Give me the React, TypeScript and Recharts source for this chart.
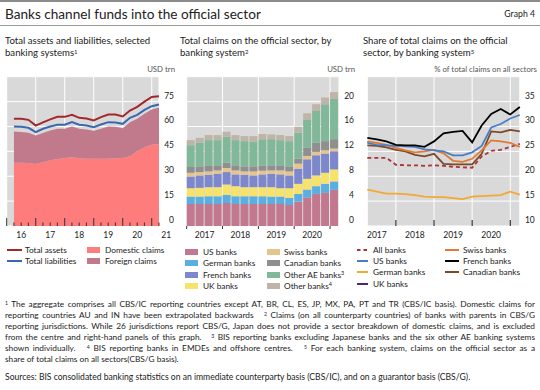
import React from 'react';
import { ComposedChart, Area, Line, Bar, XAxis, YAxis, CartesianGrid } from 'recharts';

const FONT = 'Lato, "Open Sans", "DejaVu Sans", sans-serif';
const PLOT_BG = '#d9d9d9';
const INK = '#222';

// quarter label -> position of the quarter end on a year axis
const qEnd = (q: string) => Number(q.slice(0, 4)) + Number(q.slice(6)) / 4;
const qMid = (q: string) => qEnd(q) - 0.125;

// ---- left panel: total assets and liabilities, USD trn
const leftQuarters = [
  '2016-Q1', '2016-Q2', '2016-Q3', '2016-Q4', '2017-Q1', '2017-Q2', '2017-Q3', '2017-Q4',
  '2018-Q1', '2018-Q2', '2018-Q3', '2018-Q4', '2019-Q1', '2019-Q2', '2019-Q3', '2019-Q4',
  '2020-Q1', '2020-Q2', '2020-Q3', '2020-Q4', '2021-Q1',
];
const totalAssets = [64.6, 64.6, 64.0, 60.5, 62.5, 64.3, 65.8, 65.8, 67.0, 65.2, 64.8, 63.6, 65.6, 67.2, 67.2, 66.0, 69.6, 71.8, 75.0, 77.8, 78.2];
const totalLiabilities = [60.0, 59.8, 59.2, 56.6, 58.6, 60.0, 61.0, 61.0, 62.6, 61.0, 60.6, 59.6, 61.2, 62.6, 62.4, 61.6, 65.2, 67.0, 70.0, 72.2, 73.2];
const domesticClaims = [38.2, 38.2, 38.0, 37.4, 38.4, 39.6, 40.4, 41.0, 41.4, 40.8, 40.6, 40.6, 40.6, 40.6, 40.8, 41.0, 42.0, 45.0, 47.4, 49.0, 49.4];
const foreignClaims = [18.8, 18.4, 18.2, 17.2, 17.6, 18.0, 18.2, 17.6, 18.6, 17.8, 17.6, 16.8, 18.0, 19.4, 19.0, 18.0, 20.6, 19.6, 20.2, 21.2, 22.0];
const leftYears = [2016, 2017, 2018, 2019, 2020, 2021];
const leftValueTicks = [0, 15, 30, 45, 60, 75];

// ---- centre panel: claims on the official sector, USD trn
const barQuarters = [
  '2017-Q1', '2017-Q2', '2017-Q3', '2017-Q4', '2018-Q1', '2018-Q2', '2018-Q3', '2018-Q4',
  '2019-Q1', '2019-Q2', '2019-Q3', '2019-Q4', '2020-Q1', '2020-Q2', '2020-Q3', '2020-Q4', '2021-Q1',
];
const usClaims = [3.54, 3.54, 3.54, 3.54, 3.7, 3.54, 3.54, 3.54, 3.54, 3.54, 3.54, 3.38, 3.92, 4.61, 5.16, 5.32, 5.81];
const germanClaims = [1.19, 1.19, 1.24, 1.24, 1.3, 1.24, 1.24, 1.24, 1.24, 1.19, 1.19, 1.13, 1.23, 1.25, 1.24, 1.46, 1.35];
const ukClaims = [1.35, 1.4, 1.46, 1.46, 1.67, 1.62, 1.46, 1.46, 1.46, 1.51, 1.35, 1.57, 1.63, 1.73, 1.73, 1.78, 1.94];
const frenchClaims = [1.89, 2.0, 2.0, 2.16, 2.0, 1.89, 2.0, 1.89, 2.05, 2.16, 2.21, 2.05, 2.43, 3.13, 3.24, 3.08, 2.92];
const swissClaims = [0.59, 0.54, 0.54, 0.54, 0.65, 0.65, 0.54, 0.65, 0.6, 0.54, 0.65, 0.65, 0.81, 0.54, 0.54, 0.54, 0.43];
const canadianClaims = [0.92, 0.92, 0.97, 0.81, 0.86, 0.81, 0.81, 0.81, 0.85, 0.81, 0.81, 0.81, 0.81, 1.3, 1.51, 1.46, 1.51];
const otherAEClaims = [3.51, 3.83, 4.05, 4.05, 4.16, 4.05, 4.05, 3.94, 4.2, 4.21, 4.05, 4.05, 4.15, 4.58, 5.07, 5.93, 6.48];
const otherClaims = [0.81, 0.75, 0.81, 0.81, 0.81, 0.81, 0.81, 0.92, 0.85, 0.76, 0.81, 0.81, 0.98, 0.98, 1.08, 1.08, 1.08];
const barYears = [2017, 2018, 2019, 2020, 2021];
const barValueTicks = [0, 4, 8, 12, 16, 20];

// ---- right panel: share of total claims, %
const shareQuarters = barQuarters;
const allBanks = [23.7, 23.7, 23.7, 22.3, 22.2, 22.2, 22.1, 22.2, 22.1, 21.9, 21.8, 21.7, 24.0, 25.1, 25.3, 25.9, 26.5];
const usBanks = [26.7, 26.3, 26.2, 26.1, 26.0, 25.9, 25.4, 25.2, 25.0, 24.2, 24.2, 24.8, 26.1, 29.8, 30.5, 31.6, 32.3];
const germanBanks = [17.3, 16.9, 16.5, 16.5, 16.4, 16.2, 15.9, 15.8, 15.8, 15.6, 15.4, 15.9, 16.0, 16.1, 16.2, 16.9, 16.3];
const swissBanks = [27.0, 26.7, 26.3, 25.7, 25.2, 24.8, 25.0, 25.3, 24.6, 23.1, 22.9, 23.5, 25.2, 27.2, 27.0, 26.7, 25.9];
const frenchBanks = [27.7, 27.4, 27.0, 26.3, 26.2, 26.2, 25.9, 27.0, 28.6, 28.9, 29.1, 26.8, 30.2, 32.5, 33.5, 32.4, 33.9];
const canadianBanks = [26.2, 26.1, 25.8, 25.3, 25.0, 24.3, 24.0, 24.5, 22.5, 22.4, 22.4, 22.4, 24.5, 29.0, 28.8, 29.3, 29.0];
const shareYears = [2018, 2019, 2020, 2021];
const shareValueTicks = [10, 15, 20, 25, 30, 35];

const C = {
  assets: '#a2282c',
  liabilities: '#3b67b0',
  domestic: '#ff7c7c',
  foreign: '#c07a8b',
  us: '#c27990',
  german: '#5aaee0',
  uk: '#f7e36a',
  french: '#7d87cc',
  swiss: '#e6c48e',
  canadian: '#8f8f8f',
  otherAE: '#80b899',
  other: '#beb4a8',
  lAll: '#a8343c',
  lUS: '#4a7dc4',
  lGerman: '#f0aa35',
  lUK: '#4b2a6e',
  lSwiss: '#e07a35',
  lFrench: '#000000',
  lCanadian: '#7a4a2a',
};

const leftData = leftQuarters.map((q, i) => ({
  x: qEnd(q),
  domestic: domesticClaims[i],
  foreign: foreignClaims[i],
  assets: totalAssets[i],
  liabilities: totalLiabilities[i],
}));

const barData = barQuarters.map((q, i) => ({
  x: qMid(q),
  us: usClaims[i],
  german: germanClaims[i],
  uk: ukClaims[i],
  french: frenchClaims[i],
  swiss: swissClaims[i],
  canadian: canadianClaims[i],
  otherAE: otherAEClaims[i],
  other: otherClaims[i],
}));

const shareData = shareQuarters.map((q, i) => ({
  x: qEnd(q),
  all: allBanks[i],
  us: usBanks[i],
  german: germanBanks[i],
  swiss: swissBanks[i],
  french: frenchBanks[i],
  canadian: canadianBanks[i],
}));

// value labels sit just above their grid line, right of the plot
const ValueTick = ({ x, y, payload }: any) => (
  <text x={x + 15} y={y - 3} textAnchor="end" fontSize={8.5} fill={INK} fontFamily={FONT}>
    {payload.value}
  </text>
);

// left panel: tall year ticks + quarter ticks pointing up, short year labels
const LEFT_YEAR_PX = 151.7 / 5.25;
const LeftTimeTick = ({ x, y, payload }: any) => {
  const yr = payload.value;
  const minors = [1, 2, 3].filter((k) => yr + k / 4 <= 2021.25);
  return (
    <g>
      <line x1={x} x2={x} y1={y} y2={y - 8} stroke="#333" strokeWidth={1} />
      {minors.map((k) => (
        <line key={k} x1={x + (k * LEFT_YEAR_PX) / 4} x2={x + (k * LEFT_YEAR_PX) / 4} y1={y} y2={y - 3.5} stroke="#333" strokeWidth={1} />
      ))}
      <text x={x + LEFT_YEAR_PX / 2} y={y + 12} textAnchor="middle" fontSize={8.5} fill={INK} fontFamily={FONT}>
        {String(yr).slice(2)}
      </text>
    </g>
  );
};

const BAR_YEAR_PX = 152.3 / 4.25;
const BarTimeTick = ({ x, y, payload }: any) => (
  <g>
    <line x1={x} x2={x} y1={y} y2={y + 3} stroke="#333" strokeWidth={1} />
    {payload.value < 2021 && (
      <text x={x + BAR_YEAR_PX / 2} y={y + 12} textAnchor="middle" fontSize={8.5} fill={INK} fontFamily={FONT}>
        {payload.value}
      </text>
    )}
  </g>
);

const SHARE_YEAR_PX = 152.5 / 4;
const ShareTimeTick = ({ x, y, payload }: any) => (
  <g>
    <line x1={x} x2={x} y1={y} y2={y - 6} stroke="#111" strokeWidth={1} />
    <text x={x - SHARE_YEAR_PX / 2} y={y + 12} textAnchor="middle" fontSize={8.5} fill={INK} fontFamily={FONT}>
      {payload.value - 1}
    </text>
  </g>
);

const abs = (left: number, top: number): React.CSSProperties => ({ position: 'absolute', left, top });

const LegendItem = ({ x, y, textX, w, color, label, kind, sup }: any) => (
  <div style={{ ...abs(x, y - 6), height: 12, width: 120, fontSize: 8.3, color: INK, whiteSpace: 'nowrap' }}>
    <svg width={w} height={12} style={{ position: 'absolute', left: 0, top: 0 }}>
      {kind === 'box' ? (
        <rect x={0} y={3} width={w} height={6} fill={color} />
      ) : (
        <line x1={0} x2={w} y1={6} y2={6} stroke={color} strokeWidth={2} strokeDasharray={kind === 'dash' ? '3.5 3' : undefined} />
      )}
    </svg>
    <span style={{ position: 'absolute', left: textX - x, top: 0, lineHeight: '12px' }}>
      {label}
      {sup && <sup style={{ fontSize: 5.5, verticalAlign: 'top', lineHeight: '8px' }}>{sup}</sup>}
    </span>
  </div>
);

const Sup = ({ n }: { n: string }) => (
  <sup style={{ fontSize: '0.62em', verticalAlign: 'top', position: 'relative', top: -1 }}>{n}</sup>
);

const footLines: { text: React.ReactNode; last?: boolean }[] = [
  { text: <><Sup n="1" /> The aggregate comprises all CBS/IC reporting countries except AT, BR, CL, ES, JP, MX, PA, PT and TR (CBS/IC basis). Domestic claims for</> },
  { text: <>reporting countries AU and IN have been extrapolated backwards&nbsp;&nbsp;&nbsp;<Sup n="2" /> Claims (on all counterparty countries) of banks with parents in CBS/G</> },
  { text: <>reporting jurisdictions. While 26 jurisdictions report CBS/G, Japan does not provide a sector breakdown of domestic claims, and is excluded</> },
  { text: <>from the centre and right-hand panels of this graph.&nbsp;&nbsp;&nbsp;<Sup n="3" /> BIS reporting banks excluding Japanese banks and the six other AE banking systems</> },
  { text: <>shown individually.&nbsp;&nbsp;&nbsp;<Sup n="4" /> BIS reporting banks in EMDEs and offshore centres.&nbsp;&nbsp;&nbsp;<Sup n="5" /> For each banking system, claims on the official sector as a</> },
  { text: <>share of total claims on all sectors(CBS/G basis).</>, last: true },
];

const LeftPanel = () => (
  <ComposedChart width={180} height={185} data={leftData} margin={{ top: 16.7, right: 0, bottom: 0, left: 6.7 }}>
    <CartesianGrid fill={PLOT_BG} fillOpacity={1} stroke="#fff" strokeWidth={1} />
    <Area type="linear" dataKey="domestic" stackId="claims" fill={C.domestic} fillOpacity={1} stroke="none" isAnimationActive={false} />
    <Area type="linear" dataKey="foreign" stackId="claims" fill={C.foreign} fillOpacity={1} stroke="none" isAnimationActive={false} />
    <Line type="linear" dataKey="liabilities" stroke={C.liabilities} strokeWidth={2} dot={false} isAnimationActive={false} />
    <Line type="linear" dataKey="assets" stroke={C.assets} strokeWidth={2} dot={false} isAnimationActive={false} />
    <XAxis dataKey="x" type="number" domain={[2016, 2021.25]} ticks={leftYears} interval={0} height={19}
      axisLine={false} tickLine={false} tickSize={0} tickMargin={0} tick={<LeftTimeTick />} />
    <YAxis orientation="right" width={21} domain={[0, 90]} ticks={leftValueTicks} interval={0}
      axisLine={false} tickLine={false} tickSize={0} tickMargin={0} tick={<ValueTick />} />
  </ComposedChart>
);

const barKeys: [string, string][] = [
  ['us', C.us], ['german', C.german], ['uk', C.uk], ['french', C.french],
  ['swiss', C.swiss], ['canadian', C.canadian], ['otherAE', C.otherAE], ['other', C.other],
];

const CentrePanel = () => (
  <ComposedChart width={180} height={185} data={barData} margin={{ top: 16.7, right: 0, bottom: 0, left: 6.7 }}>
    <CartesianGrid fill={PLOT_BG} fillOpacity={1} stroke="#fff" strokeWidth={1} />
    {barKeys.map(([k, col]) => (
      <Bar key={k} dataKey={k} stackId="sys" fill={col} barSize={8} isAnimationActive={false} />
    ))}
    <XAxis dataKey="x" type="number" domain={[2017, 2021.25]} ticks={barYears} interval={0} height={19}
      axisLine={false} tickLine={false} tickSize={0} tickMargin={0} tick={<BarTimeTick />} />
    <YAxis orientation="right" width={21} domain={[0, 24]} ticks={barValueTicks} interval={0}
      axisLine={false} tickLine={false} tickSize={0} tickMargin={0} tick={<ValueTick />} />
  </ComposedChart>
);

const RightPanel = () => (
  <ComposedChart width={180} height={185} data={shareData} margin={{ top: 16.7, right: 0, bottom: 0, left: 7.3 }}>
    <CartesianGrid fill={PLOT_BG} fillOpacity={1} stroke="#fff" strokeWidth={1} />
    <Line type="linear" dataKey="german" stroke={C.lGerman} strokeWidth={1.8} dot={false} isAnimationActive={false} />
    <Line type="linear" dataKey="all" stroke={C.lAll} strokeWidth={1.8} strokeDasharray="4 3" dot={false} isAnimationActive={false} />
    <Line type="linear" dataKey="canadian" stroke={C.lCanadian} strokeWidth={1.8} dot={false} isAnimationActive={false} />
    <Line type="linear" dataKey="swiss" stroke={C.lSwiss} strokeWidth={1.8} dot={false} isAnimationActive={false} />
    <Line type="linear" dataKey="us" stroke={C.lUS} strokeWidth={1.8} dot={false} isAnimationActive={false} />
    <Line type="linear" dataKey="french" stroke={C.lFrench} strokeWidth={1.8} dot={false} isAnimationActive={false} />
    <XAxis dataKey="x" type="number" domain={[2017.25, 2021.25]} ticks={shareYears} interval={0} height={19}
      axisLine={false} tickLine={false} tickSize={0} tickMargin={0} tick={<ShareTimeTick />} />
    <YAxis orientation="right" width={20.2} domain={[10, 40]} ticks={shareValueTicks} interval={0}
      axisLine={false} tickLine={false} tickSize={0} tickMargin={0} tick={<ValueTick />} />
  </ComposedChart>
);

const panelTitle: React.CSSProperties = { fontSize: 9.6, lineHeight: '12px', color: INK, width: 178, whiteSpace: 'nowrap' };
const unitStyle: React.CSSProperties = { fontSize: 7.8, color: '#555', whiteSpace: 'nowrap', textAlign: 'right', width: 170 };

export default function App() {
  return (
    <div style={{ position: 'absolute', left: 0, top: 0, width: 540, height: 390, background: '#fff', fontFamily: FONT, overflow: 'hidden' }}>
      <div style={{ ...abs(0, 0), width: 540, height: 2, background: '#8c8c8c' }} />
      <div style={{ ...abs(5, 6), fontSize: 13.6, color: INK, lineHeight: '16px', whiteSpace: 'nowrap' }}>
        Banks channel funds into the official sector
      </div>
      <div style={{ ...abs(480, 7), width: 55, textAlign: 'right', fontSize: 8.7, color: INK, lineHeight: '14px' }}>Graph 4</div>
      <div style={{ ...abs(0, 25), width: 540, height: 1, background: '#9a9a9a' }} />

      <div style={{ ...abs(5, 35), ...panelTitle }}>
        Total assets and liabilities, selected<br />banking systems<Sup n="1" />
      </div>
      <div style={{ ...abs(180, 35), ...panelTitle }}>
        Total claims on the official sector, by<br />banking system<Sup n="2" />
      </div>
      <div style={{ ...abs(363, 35), ...panelTitle }}>
        Share of total claims on the official<br />sector, by banking system<Sup n="5" />
      </div>

      <div style={{ ...abs(5, 64), ...unitStyle }}>USD trn</div>
      <div style={{ ...abs(185, 64), ...unitStyle }}>USD trn</div>
      <div style={{ ...abs(367, 64), ...unitStyle }}>% of total claims on all sectors</div>

      <div style={abs(0, 60)}><LeftPanel /></div>
      <div style={abs(180, 60)}><CentrePanel /></div>
      <div style={abs(360, 60)}><RightPanel /></div>

      <LegendItem x={7} y={250} textX={25} w={15} kind="line" color={C.assets} label="Total assets" />
      <LegendItem x={7} y={261} textX={25} w={15} kind="line" color={C.liabilities} label="Total liabilities" />
      <LegendItem x={87} y={250} textX={105} w={13} kind="box" color={C.domestic} label="Domestic claims" />
      <LegendItem x={87} y={261} textX={105} w={13} kind="box" color={C.foreign} label="Foreign claims" />

      <LegendItem x={185} y={251.5} textX={203} w={13} kind="box" color={C.us} label="US banks" />
      <LegendItem x={185} y={263} textX={203} w={13} kind="box" color={C.german} label="German banks" />
      <LegendItem x={185} y={274.5} textX={203} w={13} kind="box" color={C.french} label="French banks" />
      <LegendItem x={185} y={286} textX={203} w={13} kind="box" color={C.uk} label="UK banks" />
      <LegendItem x={267} y={251.5} textX={284} w={13} kind="box" color={C.swiss} label="Swiss banks" />
      <LegendItem x={267} y={263} textX={284} w={13} kind="box" color={C.canadian} label="Canadian banks" />
      <LegendItem x={267} y={274.5} textX={284} w={13} kind="box" color={C.otherAE} label="Other AE banks" sup="3" />
      <LegendItem x={267} y={286} textX={284} w={13} kind="box" color={C.other} label="Other banks" sup="4" />

      <LegendItem x={357} y={249.7} textX={373} w={11} kind="dash" color={C.lAll} label="All banks" />
      <LegendItem x={357} y={261} textX={373} w={11} kind="line" color={C.lUS} label="US banks" />
      <LegendItem x={357} y={272.3} textX={373} w={11} kind="line" color={C.lGerman} label="German banks" />
      <LegendItem x={357} y={283.6} textX={373} w={11} kind="line" color={C.lUK} label="UK banks" />
      <LegendItem x={445} y={249.7} textX={463} w={14} kind="line" color={C.lSwiss} label="Swiss banks" />
      <LegendItem x={445} y={261} textX={463} w={14} kind="line" color={C.lFrench} label="French banks" />
      <LegendItem x={445} y={272.3} textX={463} w={14} kind="line" color={C.lCanadian} label="Canadian banks" />

      {footLines.map((l, i) => (
        <div key={i} style={{
          ...abs(5, 298.5 + i * 11), width: 530, height: 11, overflow: 'hidden', fontSize: 8.3, lineHeight: '11px',
          color: INK, textAlign: 'justify', textAlignLast: l.last ? 'left' : 'justify',
        }}>
          {l.text}
        </div>
      ))}
      <div style={{ ...abs(5, 371.5), width: 530, fontSize: 8.6, lineHeight: '11px', color: INK, whiteSpace: 'nowrap' }}>
        Sources: BIS consolidated banking statistics on an immediate counterparty basis (CBS/IC), and on a guarantor basis (CBS/G).
      </div>
    </div>
  );
}
